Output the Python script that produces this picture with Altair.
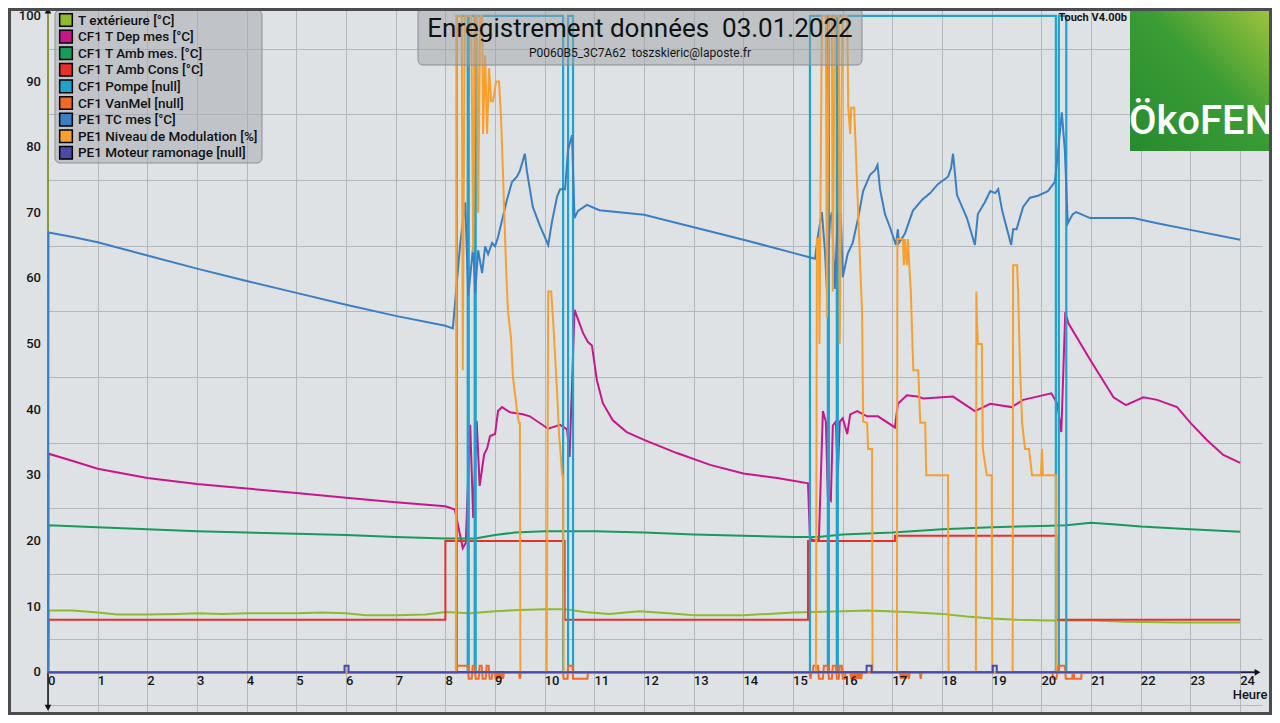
import altair as alt
import pandas as pd

SERIES = ["T extérieure [°C]", "CF1 T Dep mes [°C]", "CF1 T Amb mes. [°C]", "CF1 T Amb Cons [°C]",
          "CF1 Pompe [null]", "CF1 VanMel [null]", "PE1 TC mes [°C]", "PE1 Niveau de Modulation [%]",
          "PE1 Moteur ramonage [null]"]
COLORS = ["#8dbb2d", "#c8168c", "#179a5c", "#e4312b", "#1ea3cf", "#f06b2a", "#3b7fc2", "#f7a030", "#4b4aa6"]

HOURS = list(range(25))
Y_GRID = list(range(-5, 101, 5))
Y_LABELS = list(range(0, 101, 10))

TITLE = "Enregistrement données\u00a0\u00a003.01.2022"
SUBTITLE = "P0060B5_3C7A62\u00a0\u00a0toszskieric@laposte.fr"
VERSION = "Touch V4.00b"
LOGO = "ÖkoFEN"
X_TITLE = "Heure"

# ---- series (hour, value) ----
text_h = [0, 0.01, 0.5, 1, 1.4, 2, 2.6, 3, 3.5, 4, 5, 5.5, 6, 6.4, 7, 7.6, 8, 8.5, 9, 9.5, 10, 10.4, 10.8,
          11.3, 11.9, 12.5, 13, 14, 14.5, 15, 16, 16.5, 17.3, 18, 18.5, 19, 19.5, 20.2, 21, 21.7, 22.8, 24]
text_v = [0, 9.4, 9.4, 9.1, 8.8, 8.8, 8.9, 9.0, 8.9, 9.0, 9.0, 9.1, 9.0, 8.7, 8.7, 8.8, 9.2, 9.0, 9.3, 9.5,
          9.6, 9.6, 9.2, 8.9, 9.3, 9.0, 8.7, 8.7, 8.9, 9.1, 9.3, 9.4, 9.2, 8.9, 8.5, 8.2, 8.0, 7.9, 7.9, 7.7,
          7.6, 7.6]

dep_h = [0, 0.01, 0.5, 1, 2, 3, 4, 5, 6, 7, 8, 8.19, 8.35, 8.41, 8.5, 8.56, 8.63, 8.69, 8.78, 8.84, 8.9, 9.0,
         9.06, 9.14, 9.3, 9.56, 9.7, 10.07, 10.31, 10.45, 10.5, 10.6, 10.77, 10.87, 10.95, 11.05, 11.17, 11.37,
         11.65, 12, 12.66, 13.33, 14, 14.68, 15.3, 15.34, 15.48, 15.52, 15.6, 15.66, 15.7, 15.76, 15.8, 15.86,
         15.9, 15.94, 16.0, 16.09, 16.15, 16.29, 16.49, 16.71, 17.05, 17.11, 17.29, 17.5, 17.62, 18.22, 18.66,
         18.97, 19.4, 19.63, 20.2, 20.32, 20.4, 20.48, 20.54, 20.98, 21.45, 21.7, 22.05, 22.33, 22.73, 23.0,
         23.33, 23.66, 24]
dep_v = [0, 33.3, 32.2, 31.0, 29.6, 28.7, 28.0, 27.3, 26.6, 25.9, 25.3, 24.8, 18.9, 19.7, 37.7, 23.5, 38.3,
         28.4, 33.2, 34.1, 36.0, 36.3, 39.8, 40.4, 39.6, 39.3, 39.0, 37.1, 37.7, 37.0, 32.8, 55.2, 51.7, 50.3,
         49.8, 44.5, 41.0, 38.4, 36.6, 35.4, 33.4, 31.6, 30.3, 29.6, 28.8, 20.3, 20.0, 20.3, 39.8, 38.2, 26.8,
         26.2, 37.6, 38.2, 30.0, 38.2, 38.7, 36.3, 39.3, 39.8, 39.0, 39.0, 37.3, 40.9, 42.2, 42.0, 41.7, 42.0,
         39.8, 40.9, 40.4, 41.5, 42.5, 40.9, 36.6, 54.9, 53.2, 47.6, 41.9, 40.7, 41.9, 41.5, 40.4, 38.0, 35.4,
         33.1, 31.9]

amb_h = [0, 0.01, 1, 2, 3, 4, 5, 6, 7, 8, 8.6, 9, 9.4, 10, 11, 12, 13, 14, 15, 15.5, 16, 17, 18, 19, 20,
         20.5, 21, 21.5, 22, 23, 24]
amb_v = [0, 22.4, 22.1, 21.8, 21.5, 21.3, 21.1, 20.9, 20.6, 20.4, 20.4, 20.9, 21.3, 21.5, 21.5, 21.3, 21.0,
         20.8, 20.6, 20.6, 21.0, 21.3, 21.8, 22.1, 22.3, 22.4, 22.8, 22.5, 22.2, 21.8, 21.4]

cons_h = [0, 0.01, 8.0, 10.4, 15.3, 17.05, 20.3, 24]
cons_v = [0, 8, 20, 8, 20, 20.8, 8, 8]

pompe_h = [0, 8.23, 8.45, 8.47, 8.59, 8.61, 10.37, 10.47, 10.57, 15.34, 15.70, 15.72, 15.88, 15.90, 20.29,
           20.35, 20.50, 24]
pompe_v = [0, 100, 0, 100, 0, 100, 0, 100, 0, 100, 0, 100, 0, 100, 0, 100, 0, 0]

van_h = [0, 8.23, 8.24, 8.45, 8.47, 8.53, 8.55, 8.59, 8.61, 8.67, 8.69, 8.73, 8.75, 8.81, 8.83, 8.87, 8.89,
         8.93, 8.95, 9.00, 9.01, 9.03, 9.04, 9.06, 9.07, 9.09, 9.10, 9.12, 9.13, 9.15, 9.16, 9.18, 9.48, 9.50,
         9.52, 10.37, 10.38, 10.46, 10.47, 10.56, 10.57, 10.86, 10.87,
         15.33, 15.35, 15.37, 15.40, 15.41, 15.50, 15.52, 15.60, 15.62, 15.70, 15.72, 15.78, 15.80, 15.86,
         15.88, 15.92, 15.94, 15.98, 16.00, 16.04, 16.06, 16.15, 16.17, 16.19, 16.21, 16.23, 16.25, 16.27,
         16.29, 16.31, 16.33, 16.35, 16.37, 16.39, 16.41,
         17.15, 17.17, 17.19, 17.22, 17.24, 17.27, 17.29, 17.33, 17.35, 17.55, 17.57, 17.59,
         20.22, 20.24, 20.30, 20.32, 20.34, 20.47, 20.49, 20.62, 20.63, 20.65, 20.66, 20.80, 20.81, 24]
van_v = [0, 0, 1, 1, -1, -1, 1, 1, -1, -1, 1, 1, -1, -1, 1, 1, -1, -1, 0, 0, -1, 0, -1, 0, -1, 0, -1, 0, -1,
         0, -1, 0, 0, -1, 0, 0, -1, -1, 1, 1, -1, -1, 0,
         0, -1, 0, 0, 1, 1, -1, -1, 1, 1, -1, -1, 1, 1, -1, -1, 1, 1, -1, -1, 0, 0, -1, 0, -1, 0, -1, 0, -1,
         0, -1, 0, -1, 0, 0,
         0, -1, 0, -1, 0, -1, 0, -1, 0, 0, -1, 0,
         0, -1, -1, 0, 1, 1, -1, -1, 0, 0, -1, -1, 0, 0]

tc_h = [0, 0.01, 0.5, 1, 2, 3, 4, 5, 6, 7, 8, 8.15, 8.3, 8.4, 8.46, 8.56, 8.6, 8.66, 8.74, 8.8, 8.86, 8.94,
        9.0, 9.06, 9.24, 9.34, 9.44, 9.5, 9.6, 9.64, 9.76, 9.9, 10.07, 10.15, 10.25, 10.31, 10.41, 10.47,
        10.55, 10.6, 10.67, 10.85, 11.1, 12, 13, 14, 15, 15.44, 15.5, 15.58, 15.64, 15.68, 15.74, 15.78,
        15.84, 15.9, 15.96, 16.0, 16.1, 16.2, 16.31, 16.41, 16.55, 16.65, 16.7, 16.75, 16.85, 16.95, 17.07,
        17.11, 17.13, 17.25, 17.41, 17.6, 17.76, 17.92, 18.12, 18.18, 18.22, 18.3, 18.5, 18.66, 18.72, 18.86,
        18.97, 19.07, 19.13, 19.21, 19.39, 19.43, 19.5, 19.63, 19.77, 19.93, 20.13, 20.27, 20.33, 20.41,
        20.47, 20.53, 20.63, 20.7, 20.98, 21.85, 22.33, 23, 24]
tc_v = [0, 67.0, 66.3, 65.5, 63.5, 61.5, 59.6, 57.8, 56.0, 54.3, 52.8, 52.4, 65.4, 71.6, 57.3, 64.9, 57.8,
        64.3, 60.8, 64.9, 63.7, 65.4, 64.9, 66.3, 72.0, 74.7, 75.5, 76.4, 79.0, 76.4, 70.9, 68.1, 65.1, 68.8,
        72.5, 73.6, 73.6, 79.6, 81.8, 69.2, 70.3, 71.2, 70.4, 69.7, 67.8, 65.9, 63.9, 63.0, 66.5, 70.1, 64.3,
        58.4, 68.7, 70.1, 58.4, 69.8, 69.8, 60.2, 63.8, 65.4, 69.2, 73.3, 75.8, 76.5, 77.3, 73.6, 69.8, 67.8,
        65.1, 67.5, 65.4, 66.8, 70.3, 72.0, 73.0, 74.4, 75.5, 76.8, 79.0, 72.7, 69.2, 65.1, 69.8, 71.6, 73.3,
        73.0, 73.6, 70.3, 65.1, 67.5, 67.5, 70.9, 72.3, 72.6, 73.3, 74.7, 79.0, 85.3, 79.6, 68.4, 69.8, 70.1,
        69.2, 69.2, 68.4, 67.4, 65.9]

mod_h = [0, 8.21, 8.23, 8.33, 8.35, 8.39, 8.52, 8.56, 8.60, 8.64, 8.66, 8.70, 8.74, 8.76, 8.80, 8.84, 8.88,
         8.92, 8.96, 9.02, 9.08, 9.12, 9.16, 9.22, 9.26, 9.32, 9.36, 9.40, 9.44, 9.48, 9.50, 9.51,
         10.04, 10.07, 10.13, 10.17, 10.21, 10.25, 10.29, 10.31, 10.35, 10.37, 10.38,
         15.46, 15.48, 15.52, 15.53, 15.58, 15.66, 15.68, 15.72, 15.78, 15.80, 15.84, 15.92, 15.94, 15.99,
         16.09, 16.11, 16.15, 16.17, 16.23, 16.25, 16.31, 16.39, 16.41, 16.49, 16.51, 16.59, 16.60,
         17.09, 17.10, 17.21, 17.23, 17.25, 17.29, 17.31, 17.37, 17.42, 17.52, 17.56, 17.66, 17.68, 18.12,
         18.13, 18.68, 18.69, 18.70, 18.72, 18.80, 18.82, 18.90, 19.00, 19.01,
         19.42, 19.43, 19.51, 19.53, 19.57, 19.61, 19.67, 19.75, 19.81, 19.99, 20.01, 20.03, 20.29, 20.30,
         24]
mod_v = [0, 0, 100, 100, 46, 100, 100, 64, 100, 100, 70, 100, 100, 82, 94, 82, 92, 87, 87, 90, 90, 84.5,
         76, 62, 55, 51, 45, 42.5, 40, 38, 38, 0,
         0, 58, 58, 53.5, 48, 42.5, 36, 34.4, 30, 30, 0,
         0, 66, 66, 50, 100, 100, 54, 100, 100, 58, 100, 100, 50, 100,
         100, 86, 82, 86, 86, 82, 70, 54.5, 38.2, 38, 34, 34, 0,
         0, 66, 66, 62, 66, 62, 66, 58, 46, 46, 38, 38, 30, 30,
         0, 0, 58, 54, 50, 50, 34, 30, 30, 0,
         0, 62, 62, 58, 46, 38, 34, 34, 30, 30, 34, 30, 30, 0,
         0]

mot_h = [0, 5.97, 6.05, 16.48, 16.58, 19.02, 19.10, 24]
mot_v = [0, 1, 0, 1, 0, 1, 0, 0]

SERIES_DATA = [
    (SERIES[0], text_h, text_v, "linear", 2),
    (SERIES[1], dep_h, dep_v, "linear", 2),
    (SERIES[2], amb_h, amb_v, "linear", 2),
    (SERIES[3], cons_h, cons_v, "step-after", 2),
    (SERIES[4], pompe_h, pompe_v, "step-after", 2.2),
    (SERIES[5], van_h, van_v, "linear", 2),
    (SERIES[6], tc_h, tc_v, "linear", 2),
    (SERIES[7], mod_h, mod_v, "linear", 2),
    (SERIES[8], mot_h, mot_v, "step-after", 2),
]

rows = []
for name, hs, vs, _, _ in SERIES_DATA:
    for i, (h, v) in enumerate(zip(hs, vs)):
        rows.append({"s": name, "h": h, "v": v, "o": i})
df = pd.DataFrame(rows)

FONT = "Roboto"
BG = "#dee2e5"
GRID = "#b3b8bd"
TXT = "#151515"

xscale = alt.Scale(domain=[0, 24.44], nice=False, zero=False)
yscale = alt.Scale(domain=[-6.2, 101.2], nice=False, zero=False)
stroke_scale = alt.Scale(domain=SERIES, range=COLORS)

XAXIS = alt.Axis(values=HOURS, labels=False, ticks=False, domain=False, grid=True, gridColor=GRID,
                 gridWidth=1, title=None)
YAXIS = alt.Axis(values=Y_GRID, labels=False, ticks=False, domain=False, grid=True, gridColor=GRID,
                 gridWidth=1, title=None)

layers = []
one = pd.DataFrame({"a": [0]})

# y axis line (olive) and lower black part, x axis line
layers.append(alt.Chart(one).mark_rule(color="#8a9640", strokeWidth=2).encode(
    x=alt.datum(0), y=alt.datum(0), y2=alt.datum(100.6)))
layers.append(alt.Chart(one).mark_rule(color="#111111", strokeWidth=1.5).encode(
    x=alt.datum(0), y=alt.datum(0), y2=alt.datum(-5.4)))
layers.append(alt.Chart(one).mark_rule(color="#1d1d50", strokeWidth=2).encode(
    x=alt.datum(0), x2=alt.datum(24.3), y=alt.datum(0)))

# series lines
for name, hs, vs, interp, sw in SERIES_DATA:
    layers.append(
        alt.Chart(df).transform_filter(alt.datum.s == name).mark_line(
            strokeWidth=sw, interpolate=interp, clip=False).encode(
            x=alt.X("h:Q", scale=xscale, axis=XAXIS),
            y=alt.Y("v:Q", scale=yscale, axis=YAXIS),
            stroke=alt.Stroke("s:N", scale=stroke_scale, legend=None),
            order="o:Q",
        )
    )

# arrows
layers.append(alt.Chart(one).mark_point(shape="triangle-up", filled=True, color="#111", size=45, opacity=1).encode(
    x=alt.datum(0), y=alt.datum(100.8)))
layers.append(alt.Chart(one).mark_point(shape="triangle-down", filled=True, color="#111", size=45, opacity=1).encode(
    x=alt.datum(0), y=alt.datum(-5.4)))
layers.append(alt.Chart(one).mark_point(shape="triangle-right", filled=True, color="#111", size=45, opacity=1).encode(
    x=alt.datum(24.35), y=alt.datum(0)))

# x tick labels
tick_df = pd.DataFrame({"h": HOURS, "lab": [str(h) for h in HOURS]})
layers.append(alt.Chart(tick_df).mark_text(align="left", baseline="top", dx=0, dy=3, font=FONT, fontSize=13,
                                           fontWeight=500, color=TXT).encode(
    x=alt.X("h:Q"), y=alt.datum(0), text="lab:N"))
layers.append(alt.Chart(one).mark_text(align="center", baseline="middle", font=FONT, fontSize=13,
                                       fontWeight=500, color=TXT).encode(
    x=alt.datum(24.2), y=alt.datum(-3.4), text=alt.value(X_TITLE)))

# y tick labels
ylab_df = pd.DataFrame({"v": Y_LABELS, "lab": [str(v) for v in Y_LABELS]})
layers.append(alt.Chart(ylab_df).mark_text(align="right", baseline="middle", dx=-7, font=FONT, fontSize=13,
                                           fontWeight=500, color=TXT).encode(
    x=alt.datum(0), y=alt.Y("v:Q"), text="lab:N"))

# legend (drawn manually, one row per series)
layers.append(alt.Chart(one).mark_rect(fill="rgba(168,172,176,0.55)", stroke="#8d9194", strokeWidth=1,
                                       cornerRadius=5).encode(
    x=alt.value(7), x2=alt.value(214), y=alt.value(2), y2=alt.value(155)))
for i, (name, col) in enumerate(zip(SERIES, COLORS)):
    yy = 12 + 16.6 * i
    layers.append(alt.Chart(one).mark_square(size=160, filled=True, fill=col, stroke="black",
                                             strokeWidth=1.5, opacity=1).encode(
        x=alt.value(18), y=alt.value(yy)))
    layers.append(alt.Chart(one).mark_text(align="left", baseline="middle", font=FONT, fontSize=13.5,
                                           fontWeight=500, color="#111111").encode(
        x=alt.value(30), y=alt.value(yy + 0.5), text=alt.value(name)))

# title box
layers.append(alt.Chart(one).mark_rect(fill="rgba(160,164,168,0.5)", stroke="#8a8d90", strokeWidth=1,
                                       cornerRadius=5).encode(
    x=alt.value(370), x2=alt.value(814), y=alt.value(0), y2=alt.value(57)))
layers.append(alt.Chart(one).mark_text(align="center", baseline="alphabetic", font=FONT, fontSize=26,
                                       color="#111111").encode(
    x=alt.value(592), y=alt.value(29), text=alt.value(TITLE)))
layers.append(alt.Chart(one).mark_text(align="center", baseline="alphabetic", font=FONT, fontSize=12,
                                       color=TXT).encode(
    x=alt.value(592), y=alt.value(49), text=alt.value(SUBTITLE)))
layers.append(alt.Chart(one).mark_text(align="right", baseline="alphabetic", font=FONT, fontSize=11,
                                       fontWeight="bold", color=TXT).encode(
    x=alt.value(1079), y=alt.value(13), text=alt.value(VERSION)))

# logo
grad = alt.Gradient(gradient="linear",
                    stops=[alt.GradientStop(color="#278a2f", offset=0),
                           alt.GradientStop(color="#3b9d35", offset=0.55),
                           alt.GradientStop(color="#a2c43c", offset=1)],
                    x1=0, y1=1, x2=1, y2=0)
layers.append(alt.Chart(one).mark_rect(fill=grad).encode(
    x=alt.value(1082), x2=alt.value(1224), y=alt.value(0), y2=alt.value(143)))
layers.append(alt.Chart(one).mark_text(align="center", baseline="alphabetic", font=FONT,
                                       fontSize=40, fontWeight=500, color="white").encode(
    x=alt.value(1153), y=alt.value(126), text=alt.value(LOGO)))

# outer frame
layers.append(alt.Chart(one).mark_rect(stroke="#4a4c4f", strokeWidth=3, filled=False).encode(
    x=alt.value(-38.5), x2=alt.value(1222.5), y=alt.value(1.5), y2=alt.value(705.5)))

chart = alt.layer(*layers).properties(
    width=1214, height=705,
    autosize=alt.AutoSizeParams(type="none"),
    padding={"left": 40, "top": 0, "right": 10, "bottom": 2},
    background=BG,
).configure_view(stroke=None, fill=BG)

chart.save("out.html", embed_options={"renderer": "svg", "actions": False})
